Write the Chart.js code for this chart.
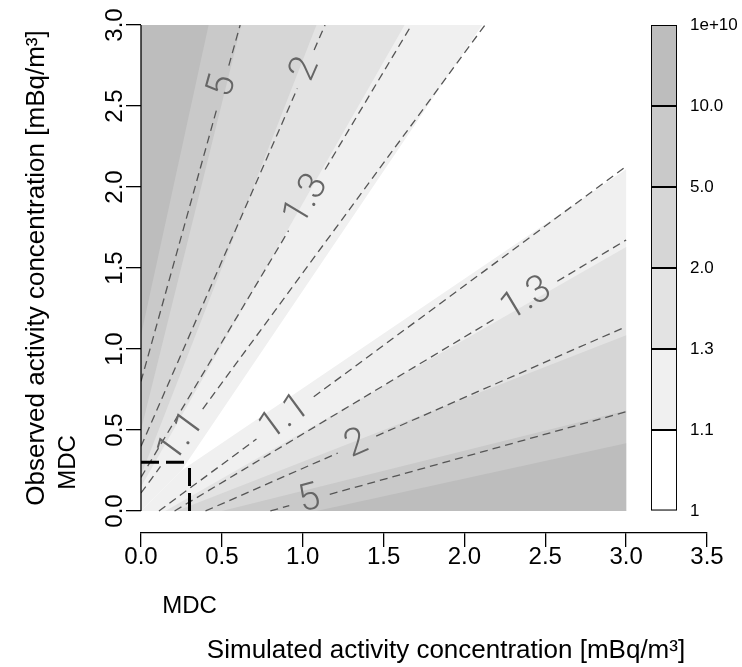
<!DOCTYPE html>
<html>
<head>
<meta charset="utf-8">
<script src="https://cdn.jsdelivr.net/npm/chart.js@4.4.1/dist/chart.umd.min.js"></script>
<style>
  html, body { margin: 0; padding: 0; background: #ffffff; }
  #wrap { position: relative; width: 742px; height: 667px; }
  .box { position: absolute; top: 0; height: 667px; }
</style>
</head>
<body>
<div id="wrap">
  <div class="box" style="left:0;width:742px"><canvas id="plotCanvas"></canvas></div>
  <div class="box" style="left:600px;width:142px"><canvas id="keyCanvas"></canvas></div>
</div>
<script>
const MDC = 0.3;
const xTitle = 'Simulated activity concentration [mBq/m³]';
const yTitle = 'Observed activity concentration [mBq/m³]';

// colour key
const keyLabels = ['1', '1.1', '1.3', '2.0', '5.0', '10.0', '1e+10'];
const keyColors = ['#ffffff', '#f0f0f0', '#e3e3e3', '#d6d6d6', '#c9c9c9', '#bdbdbd'];

// filled bands, lower-right half (upper-left half is the mirror image)
// each boundary runs from (bandStartX, bandStartY) to (3, bandEndY)
const bandStartX = [0.25, 0.15, 0.22, 0.50, 1.085];
const bandStartY = [0.25, 0, 0, 0, 0];
const bandEndY = [2.11, 1.63, 1.085, 0.62, 0.418];

// dashed contour lines, lower-right half: from (contourX0, 0) to (3, contourY3)
const contourLabels = ['1.1', '1.3', '2', '5'];
const contourX0 = [0.111, 0.2075, 0.399, 0.80];
const contourY3 = [2.127, 1.673, 1.138, 0.613];
const labelPosLower = [0.27, 0.78, 0.36, 0.11];
const labelPosUpper = [0.118, 0.613, 0.895, 0.829];
const labelGap = [0.22, 0.22, 0.13, 0.13];

Chart.defaults.font.family = '"Liberation Sans", Arial, sans-serif';
Chart.defaults.color = '#000';

const datasets = [];

bandEndY.forEach((ey, k) => {
    const sx = bandStartX[k];
    const sy = bandStartY[k];
    const common = {
        backgroundColor: keyColors[k + 1],
        borderColor: 'rgba(0,0,0,0)',
        borderWidth: 0,
        fill: 'shape',
        order: 20 - k
    };
    datasets.push(Object.assign({
        data: [{x: sx, y: sy}, {x: 3, y: ey}, {x: 3, y: 0}, {x: 0, y: 0}]
    }, common));
    datasets.push(Object.assign({
        data: [{x: sy, y: sx}, {x: ey, y: 3}, {x: 0, y: 3}, {x: 0, y: 0}]
    }, common));
});

const contourLines = [];
contourLabels.forEach((txt, i) => {
    contourLines.push({text: txt, x0: contourX0[i], y0: 0, x1: 3, y1: contourY3[i], t: labelPosLower[i], gap: labelGap[i]});
    contourLines.push({text: txt, x0: 0, y0: contourX0[i], x1: contourY3[i], y1: 3, t: labelPosUpper[i], gap: labelGap[i]});
});

function pointAt(l, t) {
    return {x: l.x0 + (l.x1 - l.x0) * t, y: l.y0 + (l.y1 - l.y0) * t};
}

contourLines.forEach(l => {
    const len = Math.hypot(l.x1 - l.x0, l.y1 - l.y0);
    const a = pointAt(l, l.t - l.gap / len);
    const b = pointAt(l, l.t + l.gap / len);
    datasets.push({
        data: [{x: l.x0, y: l.y0}, a, {x: a.x, y: null}, b, {x: l.x1, y: l.y1}],
        borderColor: '#555555',
        borderWidth: 1.3,
        borderDash: [8, 5],
        fill: false,
        order: 2
    });
});

// MDC marker
datasets.push({
    data: [{x: 0, y: MDC}, {x: MDC, y: MDC}],
    borderColor: '#000',
    borderWidth: 3,
    borderDash: [18, 7],
    fill: false,
    order: 1
});
datasets.push({
    data: [{x: MDC, y: 0}, {x: MDC, y: MDC}],
    borderColor: '#000',
    borderWidth: 3,
    borderDash: [18, 7],
    fill: false,
    order: 1
});

const plotExtras = {
    id: 'plotExtras',
    afterDatasetsDraw(chart) {
        const {ctx} = chart;
        const x = chart.scales.x;
        const y = chart.scales.y;
        ctx.save();

        // left axis, only over the data range
        ctx.strokeStyle = '#000';
        ctx.lineWidth = 1.3;
        ctx.beginPath();
        ctx.moveTo(x.getPixelForValue(0), y.getPixelForValue(0));
        ctx.lineTo(x.getPixelForValue(0), y.getPixelForValue(3));
        ctx.stroke();

        // contour labels
        ctx.font = '300 38px Roboto';
        ctx.fillStyle = '#666666';
        ctx.textAlign = 'center';
        ctx.textBaseline = 'middle';
        contourLines.forEach(l => {
            const p = pointAt(l, l.t);
            const ang = Math.atan2(
                y.getPixelForValue(l.y1) - y.getPixelForValue(l.y0),
                x.getPixelForValue(l.x1) - x.getPixelForValue(l.x0)
            );
            ctx.save();
            ctx.translate(x.getPixelForValue(p.x), y.getPixelForValue(p.y));
            ctx.rotate(ang);
            ctx.fillText(l.text, 0, 0);
            ctx.restore();
        });

        // MDC labels and axis titles
        ctx.fillStyle = '#000';
        ctx.font = '24px "Liberation Sans"';
        ctx.fillText('MDC', x.getPixelForValue(MDC), x.top + 73);
        ctx.save();
        ctx.translate(68, y.getPixelForValue(MDC));
        ctx.rotate(-Math.PI / 2);
        ctx.fillText('MDC', 0, 0);
        ctx.restore();

        ctx.font = '26px "Liberation Sans"';
        ctx.fillText(xTitle, 446, 651);
        ctx.save();
        ctx.translate(37, 268);
        ctx.rotate(-Math.PI / 2);
        ctx.fillText(yTitle, 0, 0);
        ctx.restore();

        ctx.restore();
    }
};

new Chart(document.getElementById('plotCanvas'), {
    type: 'line',
    data: {datasets: datasets},
    options: {
        responsive: true,
        maintainAspectRatio: false,
        animation: false,
        layout: {padding: {left: 0, right: 35, top: 25, bottom: 0}},
        elements: {point: {radius: 0, hoverRadius: 0}, line: {tension: 0}},
        plugins: {legend: {display: false}, tooltip: {enabled: false}},
        events: [],
        scales: {
            x: {
                type: 'linear',
                min: 0,
                max: 3.5,
                afterFit: function(s) { s.height = 134; },
                ticks: {
                    stepSize: 0.5,
                    autoSkip: false,
                    maxRotation: 0,
                    padding: -4,
                    font: {size: 24},
                    callback: function(v) { return v.toFixed(1); }
                },
                grid: {drawOnChartArea: false, drawTicks: true, tickLength: 14, color: '#000', lineWidth: 1.3},
                border: {display: true, color: '#000', width: 1.3}
            },
            y: {
                type: 'linear',
                min: -0.136,
                max: 3,
                afterFit: function(s) { s.width = 141; },
                afterBuildTicks: function(s) { s.ticks = s.ticks.filter(t => t.value >= 0); },
                ticks: {
                    stepSize: 0.5,
                    includeBounds: false,
                    minRotation: 90,
                    maxRotation: 90,
                    crossAlign: 'center',
                    padding: -6,
                    font: {size: 24},
                    callback: function(v) { return v.toFixed(1); }
                },
                grid: {drawOnChartArea: false, drawTicks: true, tickLength: 15, color: '#000', lineWidth: 1.3},
                border: {display: false}
            }
        }
    },
    plugins: [plotExtras]
});

new Chart(document.getElementById('keyCanvas'), {
    type: 'bar',
    data: {
        labels: [''],
        datasets: keyColors.map(c => ({
            data: [1],
            backgroundColor: c,
            borderColor: '#000',
            borderWidth: 1.3,
            borderSkipped: false,
            barPercentage: 1,
            categoryPercentage: 1
        }))
    },
    options: {
        responsive: true,
        maintainAspectRatio: false,
        animation: false,
        events: [],
        layout: {padding: {left: 51, right: 0, top: 25, bottom: 156}},
        plugins: {legend: {display: false}, tooltip: {enabled: false}},
        scales: {
            x: {stacked: true, display: false},
            y: {
                stacked: true,
                position: 'right',
                min: 0,
                max: 6,
                afterFit: function(s) { s.width = 65; },
                ticks: {
                    stepSize: 1,
                    padding: 13,
                    font: {size: 17},
                    callback: function(v) { return keyLabels[v]; }
                },
                grid: {drawOnChartArea: false, drawTicks: false},
                border: {display: false}
            }
        }
    }
});
</script>
</body>
</html>
